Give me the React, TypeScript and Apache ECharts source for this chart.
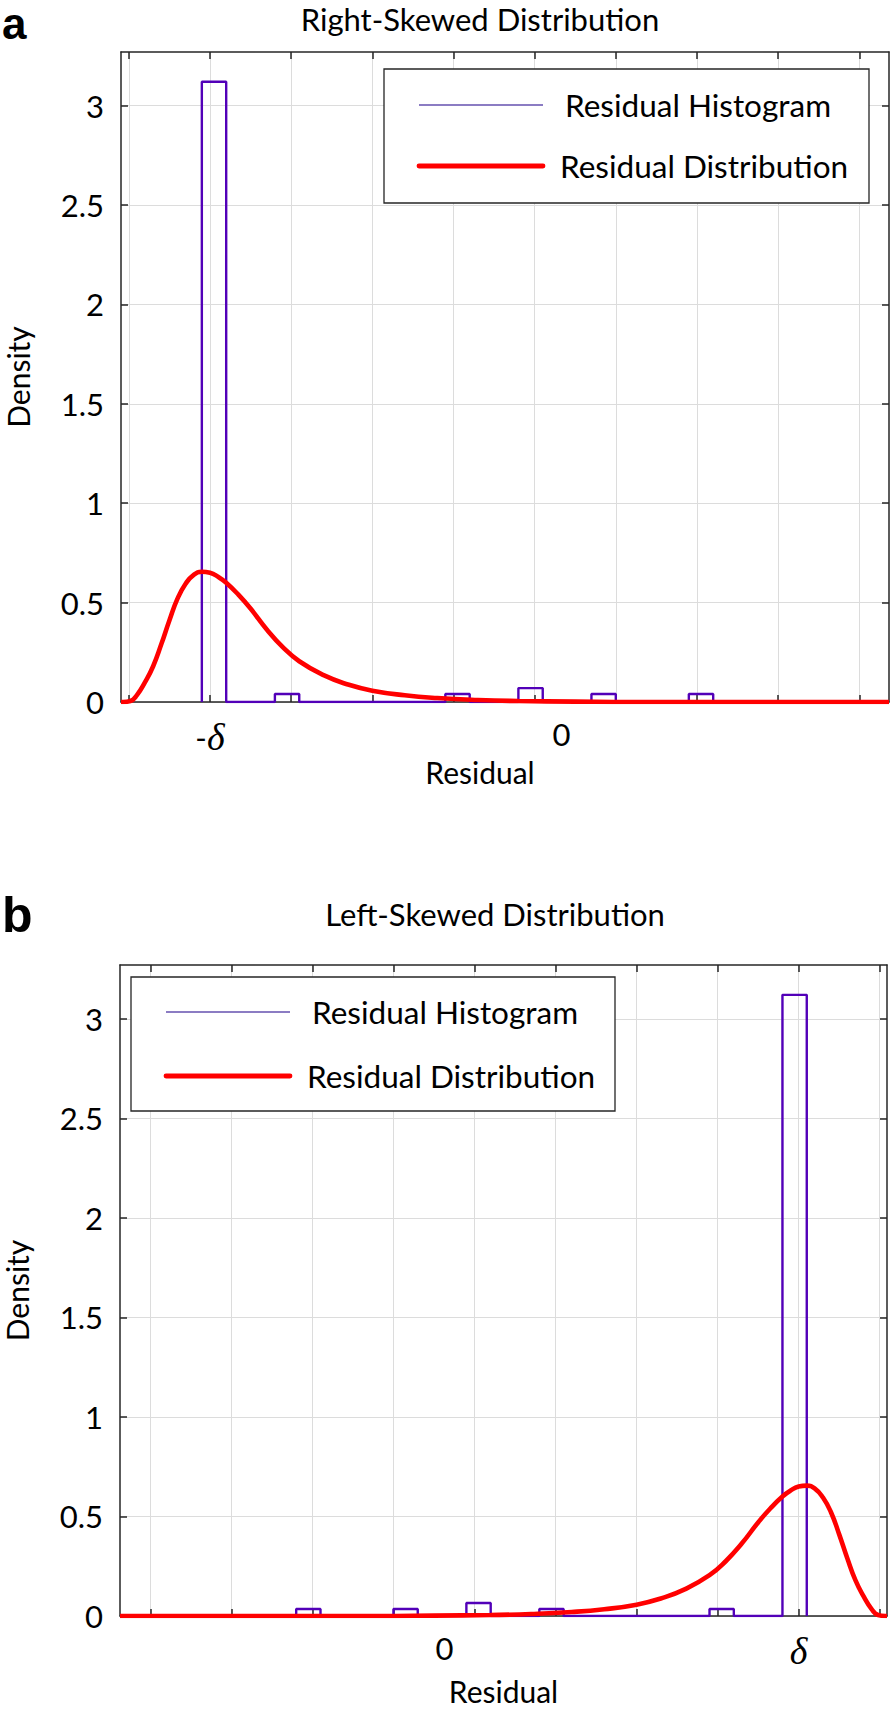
import React, { useEffect, useRef } from 'react';
import * as echarts from 'echarts';

// ---------- shared ticks ----------
const yTickValues = [0, 0.5, 1, 1.5, 2, 2.5, 3];
const xTickValues = [0, 1, 2, 3, 4, 5, 6, 7, 8, 9];
const yRange = [0, 3.27];

// ---------- panel a (right-skewed) ----------
const aXRange = [-0.096, 9.366];
const aXLabelValues = [1, 5.33];
const aXLabelTexts = ['-δ', '0'];
const aBinEdges = [0.9, 1.2, 1.5, 1.8, 2.1, 2.4, 2.7, 3.0, 3.3, 3.6, 3.9, 4.2, 4.5, 4.8, 5.1, 5.4, 5.7, 6.0, 6.3, 6.6, 6.9, 7.2];
const aBinDensity = [3.12, 0, 0, 0.04, 0, 0, 0, 0, 0, 0, 0.04, 0, 0, 0.07, 0, 0, 0.04, 0, 0, 0, 0.04];
const aCurveX = [-0.096, -0.07, 0.02, 0.1, 0.2, 0.3, 0.4, 0.5, 0.6, 0.7, 0.8, 0.9, 1.0, 1.1, 1.2, 1.35, 1.5, 1.7, 1.9, 2.1, 2.4, 2.7, 3.0, 3.4, 3.8, 4.3, 4.8, 5.5, 6.2, 9.366];
const aCurveY = [0, 0, 0.005, 0.035, 0.1, 0.18, 0.29, 0.41, 0.52, 0.595, 0.64, 0.655, 0.65, 0.63, 0.6, 0.54, 0.47, 0.365, 0.275, 0.205, 0.135, 0.088, 0.057, 0.034, 0.02, 0.01, 0.005, 0.002, 0, 0];

// ---------- panel b (left-skewed) ----------
const bXRange = [-0.374, 9.09];
const bXLabelValues = [3.63, 8];
const bXLabelTexts = ['0', 'δ'];
const bBinEdges = [1.8, 2.1, 2.4, 2.7, 3.0, 3.3, 3.6, 3.9, 4.2, 4.5, 4.8, 5.1, 5.4, 5.7, 6.0, 6.3, 6.6, 6.9, 7.2, 7.5, 7.8, 8.1];
const bBinDensity = [0.035, 0, 0, 0, 0.035, 0, 0, 0.065, 0, 0, 0.035, 0, 0, 0, 0, 0, 0, 0.035, 0, 0, 3.12];
const bCurveX = [-0.374, 2.8, 3.5, 4.2, 4.7, 5.2, 5.6, 6.0, 6.3, 6.6, 6.9, 7.1, 7.3, 7.5, 7.65, 7.8, 7.9, 8.0, 8.1, 8.2, 8.3, 8.4, 8.5, 8.6, 8.7, 8.8, 8.9, 8.98, 9.07, 9.09];
const bCurveY = [0, 0, 0.002, 0.005, 0.01, 0.02, 0.034, 0.057, 0.088, 0.135, 0.205, 0.275, 0.365, 0.47, 0.54, 0.6, 0.63, 0.65, 0.655, 0.64, 0.595, 0.52, 0.41, 0.29, 0.18, 0.1, 0.035, 0.005, 0, 0];

const titles = ['Right-Skewed Distribution', 'Left-Skewed Distribution'];
const panelLetters = ['a', 'b'];
const legendNames = ['Residual Histogram', 'Residual Distribution'];
const xName = 'Residual';
const yName = 'Density';

const HIST_COLOR = '#5200b8';
const CURVE_COLOR = '#ff0000';
const AXIS_COLOR = '#262626';
const GRID_COLOR = '#dcdcdc';
const FONT = 'Lato';

function stairs(edges: number[], vals: number[]) {
  const pts: number[][] = [[edges[0], 0]];
  for (let i = 0; i < vals.length; i++) {
    pts.push([edges[i], vals[i]]);
    pts.push([edges[i + 1], vals[i]]);
  }
  pts.push([edges[edges.length - 1], 0]);
  return pts;
}

function pairs(xs: number[], ys: number[]) {
  return xs.map((x, i) => [x, ys[i]]);
}

const labelRich = {
  n: { fontFamily: FONT, fontSize: 31, color: '#000' },
  m: { fontFamily: FONT, fontSize: 31, color: '#000' },
  d: { fontFamily: 'Liberation Serif', fontStyle: 'italic', fontSize: 38, color: '#000' },
};

function fmtX(vals: number[], texts: string[]) {
  return (v: number) => {
    let idx = 0;
    let best = Infinity;
    vals.forEach((c, i) => {
      if (Math.abs(c - v) < best) { best = Math.abs(c - v); idx = i; }
    });
    const t = texts[idx];
    if (t === '-δ') return '{m|-}{d|δ}';
    if (t === 'δ') return '{d|δ}';
    return '{n|' + t + '}';
  };
}

function xAxes(grid: number, range: number[], labelVals: number[], labelTexts: string[], nameGap: number, namePad: number[]) {
  return [
    {
      gridIndex: grid, type: 'value', position: 'bottom', min: range[0], max: range[1],
      axisLine: { show: true, onZero: false, lineStyle: { color: AXIS_COLOR, width: 1.5 } },
      axisTick: { show: true, inside: true, length: 7, customValues: xTickValues, lineStyle: { color: AXIS_COLOR, width: 1.5 } },
      splitLine: { show: true, lineStyle: { color: GRID_COLOR, width: 1 } },
      axisLabel: { show: true, customValues: labelVals, formatter: fmtX(labelVals, labelTexts), margin: 16, rich: labelRich },
      name: xName, nameLocation: 'middle', nameGap,
      nameTextStyle: { fontFamily: FONT, fontSize: 30, color: '#000', padding: namePad },
    },
    {
      gridIndex: grid, type: 'value', position: 'top', min: range[0], max: range[1],
      axisLine: { show: true, onZero: false, lineStyle: { color: AXIS_COLOR, width: 1.5 } },
      axisTick: { show: true, inside: true, length: 7, customValues: xTickValues, lineStyle: { color: AXIS_COLOR, width: 1.5 } },
      splitLine: { show: false },
      axisLabel: { show: false },
    },
  ];
}

function yAxes(grid: number) {
  return [
    {
      gridIndex: grid, type: 'value', position: 'left', min: yRange[0], max: yRange[1],
      axisLine: { show: true, onZero: false, lineStyle: { color: AXIS_COLOR, width: 1.5 } },
      axisTick: { show: true, inside: true, length: 7, customValues: yTickValues, lineStyle: { color: AXIS_COLOR, width: 1.5 } },
      splitLine: { show: true, lineStyle: { color: GRID_COLOR, width: 1 } },
      axisLabel: { show: true, customValues: yTickValues, margin: 17, fontFamily: FONT, fontSize: 31, color: '#000' },
      name: yName, nameLocation: 'middle', nameGap: 88,
      nameTextStyle: { fontFamily: FONT, fontSize: 30, color: '#000' },
    },
    {
      gridIndex: grid, type: 'value', position: 'right', min: yRange[0], max: yRange[1],
      axisLine: { show: true, onZero: false, lineStyle: { color: AXIS_COLOR, width: 1.5 } },
      axisTick: { show: true, inside: true, length: 7, customValues: yTickValues, lineStyle: { color: AXIS_COLOR, width: 1.5 } },
      splitLine: { show: false },
      axisLabel: { show: false },
    },
  ];
}

function legendGraphic(x: number, y: number, w: number, h: number, l1: number, l2: number, lx: number, tx1: number, tx2: number) {
  return [
    { type: 'rect', z: 100, shape: { x, y, width: w, height: h }, style: { fill: '#fff', stroke: AXIS_COLOR, lineWidth: 1.3 } },
    { type: 'line', z: 101, shape: { x1: lx, y1: l1, x2: lx + 124, y2: l1 }, style: { stroke: '#8b7cc3', lineWidth: 1.8 } },
    { type: 'line', z: 101, shape: { x1: lx, y1: l2, x2: lx + 124, y2: l2 }, style: { stroke: CURVE_COLOR, lineWidth: 4.8, lineCap: 'round' } },
    { type: 'text', z: 101, x: tx1, y: l1, style: { text: legendNames[0], fontFamily: FONT, fontSize: 31.5, fill: '#000', align: 'left', verticalAlign: 'middle', textAlign: 'left', textVerticalAlign: 'middle' } },
    { type: 'text', z: 101, x: tx2, y: l2, style: { text: legendNames[1], fontFamily: FONT, fontSize: 31.5, fill: '#000', align: 'left', verticalAlign: 'middle', textAlign: 'left', textVerticalAlign: 'middle' } },
  ];
}

function textEl(text: string, x: number, y: number, size: number, family: string, weight: string, align: string, vAlign: string) {
  const style: any = { text, fontFamily: family, fontSize: size, fontWeight: weight, fill: '#000', align, verticalAlign: vAlign, textAlign: align, textVerticalAlign: vAlign };
  return { type: 'text', z: 100, x, y, style };
}

export default function App() {
  const ref = useRef<HTMLDivElement>(null);
  useEffect(() => {
    if (!ref.current) return;
    const chart = echarts.init(ref.current, null, { renderer: 'svg' });
    const curveStyle = { color: CURVE_COLOR, width: 4.6 };
    const option: any = {
      animation: false,
      backgroundColor: '#fff',
      grid: [
        { left: 121, top: 52, width: 768, height: 650, containLabel: false, outerBoundsMode: 'none' },
        { left: 120, top: 965, width: 767, height: 651, containLabel: false, outerBoundsMode: 'none' },
      ],
      xAxis: [
        ...xAxes(0, aXRange, aXLabelValues, aXLabelTexts, 54, [0, 50, 0, 0]),
        ...xAxes(1, bXRange, bXLabelValues, bXLabelTexts, 60, [0, 0, 0, 0]),
      ],
      yAxis: [...yAxes(0), ...yAxes(1)],
      series: [
        { name: legendNames[0], type: 'line', xAxisIndex: 0, yAxisIndex: 0, data: stairs(aBinEdges, aBinDensity), symbol: 'none', lineStyle: { color: HIST_COLOR, width: 2.4 }, z: 3 },
        { name: legendNames[1], type: 'line', xAxisIndex: 0, yAxisIndex: 0, data: pairs(aCurveX, aCurveY), smooth: 0.5, symbol: 'none', lineStyle: curveStyle, z: 4 },
        { name: legendNames[0], type: 'line', xAxisIndex: 2, yAxisIndex: 2, data: stairs(bBinEdges, bBinDensity), symbol: 'none', lineStyle: { color: HIST_COLOR, width: 2.4 }, z: 3 },
        { name: legendNames[1], type: 'line', xAxisIndex: 2, yAxisIndex: 2, data: pairs(bCurveX, bCurveY), smooth: 0.5, symbol: 'none', lineStyle: curveStyle, z: 4 },
      ],
      graphic: [
        textEl(panelLetters[0], 2, 1, 44, 'Liberation Sans', 'bold', 'left', 'top'),
        textEl(panelLetters[1], 2, 915, 50, 'Liberation Sans', 'bold', 'left', 'middle'),
        textEl(titles[0], 480, 19, 31, FONT, 'normal', 'center', 'middle'),
        textEl(titles[1], 495, 914, 31, FONT, 'normal', 'center', 'middle'),
        ...legendGraphic(384, 69, 485, 134, 105, 166, 419, 565, 560),
        ...legendGraphic(131, 977, 484, 134, 1012, 1076, 166, 312, 307),
      ],
    };
    chart.setOption(option);
    return () => chart.dispose();
  }, []);
  return <div ref={ref} style={{ position: 'absolute', left: 0, top: 0, width: 891, height: 1709 }} />;
}
